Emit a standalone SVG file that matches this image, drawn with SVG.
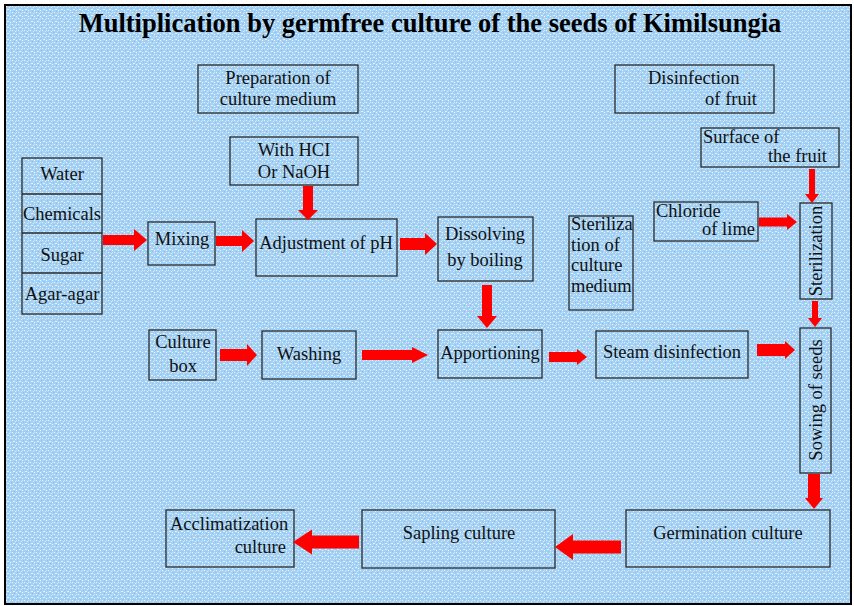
<svg xmlns="http://www.w3.org/2000/svg" width="854" height="606" viewBox="0 0 854 606">
<defs>
<pattern id="tex" width="6" height="6" patternUnits="userSpaceOnUse">
<rect width="6" height="6" fill="#a3d0f3"/>
<rect x="0" y="0" width="1" height="1" fill="#e8f4fd"/>
<rect x="3" y="1" width="1" height="1" fill="#d8ecfb"/>
<rect x="1" y="3" width="2" height="1" fill="#e3f1fc"/>
<rect x="4" y="4" width="1" height="1" fill="#f2f9fe"/>
<rect x="5" y="2" width="1" height="1" fill="#8ec3ec"/>
<rect x="2" y="5" width="1" height="1" fill="#8ec3ec"/>
<rect x="4" y="0" width="1" height="1" fill="#c9e4f8"/>
</pattern>
<style>
.box{fill:none;stroke:#2a2a2a;stroke-width:1.3}
.t{font-size:18.5px;fill:#111}
.c{text-anchor:middle}
.e{text-anchor:end}
.arr{fill:#ff0000}
</style>
</defs>
<rect x="5" y="5" width="846" height="599" fill="url(#tex)" stroke="#000" stroke-width="2"/>
<g font-family="Liberation Serif, Times New Roman, serif">
<text x="430" y="32" text-anchor="middle" font-size="26.5" font-weight="bold" fill="#000">Multiplication by germfree culture of the seeds of Kimilsungia</text>

<g id="prep"><rect class="box" x="198" y="65" width="160" height="48"/><text class="t c" x="278" y="84">Preparation of</text><text class="t c" x="278" y="105">culture medium</text></g>
<g id="hcl"><rect class="box" x="230" y="137" width="128" height="48"/><text class="t c" x="294" y="156">With HCI</text><text class="t c" x="294" y="178">Or NaOH</text></g>
<g id="disinf"><rect class="box" x="615" y="65" width="159" height="48"/><text class="t" x="648" y="84">Disinfection</text><text class="t e" x="757" y="105">of fruit</text></g>
<g id="surface"><rect class="box" x="701" y="128" width="138" height="39"/><text class="t" x="703" y="143">Surface of</text><text class="t e" x="827" y="162">the fruit</text></g>
<g id="chloride"><rect class="box" x="654" y="202" width="104" height="39"/><text class="t" x="656" y="217">Chloride</text><text class="t e" x="755" y="235">of lime</text></g>
<g id="stermed"><rect class="box" x="569" y="216" width="64" height="94"/><text class="t" x="571" y="230">Steriliza</text><text class="t" x="571" y="251">tion of</text><text class="t" x="571" y="271">culture</text><text class="t" x="571" y="292">medium</text></g>
<g id="steril"><rect class="box" x="800" y="203" width="32" height="96"/><text class="t c" transform="translate(822,251) rotate(-90)">Sterilization</text></g>
<g id="ingredients"><rect class="box" x="22" y="158" width="80" height="156"/><line class="box" x1="22" y1="194" x2="102" y2="194"/><line class="box" x1="22" y1="233" x2="102" y2="233"/><line class="box" x1="22" y1="273" x2="102" y2="273"/>
<text class="t c" x="62" y="180">Water</text><text class="t c" x="62" y="220">Chemicals</text><text class="t c" x="62" y="261">Sugar</text><text class="t c" x="62" y="300">Agar-agar</text></g>
<g id="mixing"><rect class="box" x="148" y="222" width="67" height="43"/><text class="t c" x="182" y="245">Mixing</text></g>
<g id="adjust"><rect class="box" x="256" y="219" width="141" height="57"/><text class="t c" x="326" y="249">Adjustment of pH</text></g>
<g id="dissolve"><rect class="box" x="438" y="217" width="95" height="64"/><text class="t c" x="485" y="240">Dissolving</text><text class="t c" x="485" y="266">by boiling</text></g>
<g id="culturebox"><rect class="box" x="149" y="330" width="67" height="50"/><text class="t c" x="183" y="348">Culture</text><text class="t c" x="183" y="372">box</text></g>
<g id="washing"><rect class="box" x="262" y="331" width="94" height="48"/><text class="t c" x="309" y="360">Washing</text></g>
<g id="apport"><rect class="box" x="438" y="330" width="104" height="48"/><text class="t c" x="490" y="359">Apportioning</text></g>
<g id="steam"><rect class="box" x="596" y="331" width="152" height="47"/><text class="t c" x="672" y="358">Steam disinfection</text></g>
<g id="sowing"><rect class="box" x="800" y="328" width="31" height="145"/><text class="t c" transform="translate(822,400) rotate(-90)">Sowing of seeds</text></g>
<g id="germ"><rect class="box" x="626" y="510" width="204" height="57"/><text class="t c" x="728" y="539">Germination culture</text></g>
<g id="sapling"><rect class="box" x="362" y="510" width="193" height="58"/><text class="t c" x="459" y="539">Sapling culture</text></g>
<g id="acclim"><rect class="box" x="166" y="510" width="128" height="57"/><text class="t" x="170" y="530">Acclimatization</text><text class="t e" x="286" y="553">culture</text></g>
</g>
<g id="connectors" class="arr">
<path d="M103,235 L134,235 L134,229 L147,240 L134,251 L134,245 L103,245 Z"/>
<path d="M216,236 L242,236 L242,230 L254,241 L242,252 L242,246 L216,246 Z"/>
<path d="M400,238 L425,238 L425,233 L437,244 L425,255 L425,250 L400,250 Z"/>
<path d="M303,186 L313,186 L313,210 L318,210 L308,220 L298,210 L303,210 Z"/>
<path d="M482,285 L492,285 L492,316 L497,316 L487,328 L477,316 L482,316 Z"/>
<path d="M220,349 L247,349 L247,344 L257,355 L247,366 L247,361 L220,361 Z"/>
<path d="M362,350 L412,350 L412,347 L428,355 L412,363 L412,360 L362,360 Z"/>
<path d="M549,352 L577,352 L577,349 L587,357 L577,365 L577,362 L549,362 Z"/>
<path d="M757,344 L785,344 L785,341 L795,350 L785,359 L785,356 L757,356 Z"/>
<path d="M759,217.5 L787,217.5 L787,214 L797,222 L787,230 L787,226.5 L759,226.5 Z"/>
<path d="M809,169 L815,169 L815,194 L819,194 L812,203 L805,194 L809,194 Z"/>
<path d="M812,301 L818,301 L818,318 L822,318 L815,327 L808,318 L812,318 Z"/>
<path d="M808,474 L820,474 L820,498 L823,498 L814,509 L805,498 L808,498 Z"/>
<path d="M621,540.5 L573,540.5 L573,534 L555,547 L573,560 L573,553.5 L621,553.5 Z"/>
<path d="M359,535.5 L312,535.5 L312,529.5 L293,542 L312,554.5 L312,548.5 L359,548.5 Z"/>
</g>
</svg>
